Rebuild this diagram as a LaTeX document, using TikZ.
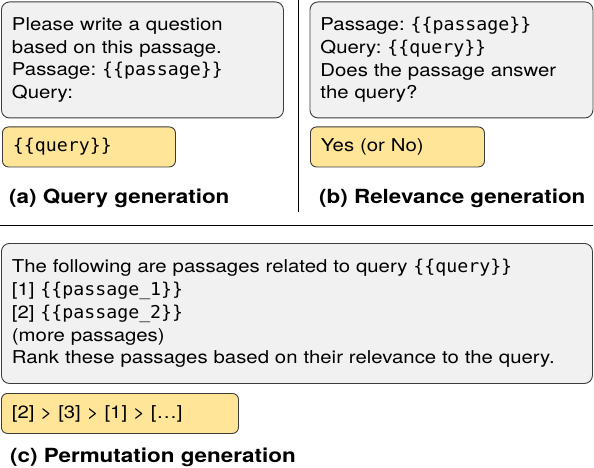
\documentclass[tikz,border=0pt]{standalone}
\usepackage{fontspec}
\setmainfont{TeX Gyre Heros}[FakeStretch=1.15]
\setmonofont{DejaVu Sans Mono}[FakeStretch=1.03]
\frenchspacing
\definecolor{promptgray}{HTML}{F1F1F1}
\definecolor{answeryellow}{HTML}{FFE598}
\definecolor{edgegray}{HTML}{3C3C3C}
\newcommand{\slot}[1]{\texttt{\{\{#1\}\}}}

\begin{document}
\begin{tikzpicture}[x=1pt, y=-1pt,
    prompt/.style={draw=edgegray, line width=0.9pt, fill=promptgray, rounded corners=8pt,
        anchor=north west, align=left, inner xsep=10.5pt, inner ysep=0pt,
        font=\fontsize{17.7}{22.8}\selectfont},
    answer/.style={prompt, fill=answeryellow, rounded corners=6pt, minimum height=40pt},
    caption/.style={anchor=west, inner sep=0pt, font=\fontsize{19.5}{22}\selectfont\bfseries}]
    \useasboundingbox (0,0) rectangle (594,468);

    % (a) query generation
    \node[prompt, text width=261pt, minimum height=116pt] (qgprompt) at (1,1.5)
        {Please write a question\\based on this passage.\\Passage: \slot{passage}\\Query:};
    \node[answer, text width=152pt] (qganswer) at (2,126.5) {\slot{query}};
    \node[caption] (qgcaption) at (9,198) {(a) Query generation};

    % (b) relevance generation
    \node[prompt, text width=262pt, minimum height=116pt] (rgprompt) at (309.5,1.5)
        {Passage: \slot{passage}\\Query: \slot{query}\\Does the passage answer\\the query?};
    \node[answer, text width=153pt] (rganswer) at (310,126.5) {Yes (or No)};
    \node[caption] (rgcaption) at (319,198) {(b) Relevance generation};

    \draw[line width=1pt] (298.5,0) -- (298.5,212);
    \draw[line width=1pt] (0,225) -- (593,225);

    % (c) permutation generation
    \node[prompt, text width=570pt, minimum height=140pt] (pgprompt) at (1,243)
        {The following are passages related to query \slot{query}\\
         {[1]} \slot{passage\_1}\\
         {[2]} \slot{passage\_2}\\
         (more passages)\\
         Rank these passages based on their relevance to the query.};
    \node[answer, text width=216pt] (pganswer) at (1,393) {{[2]} > [3] > [1] > [\dots]};
    \node[caption] (pgcaption) at (10,457) {(c) Permutation generation};
\end{tikzpicture}
\end{document}
